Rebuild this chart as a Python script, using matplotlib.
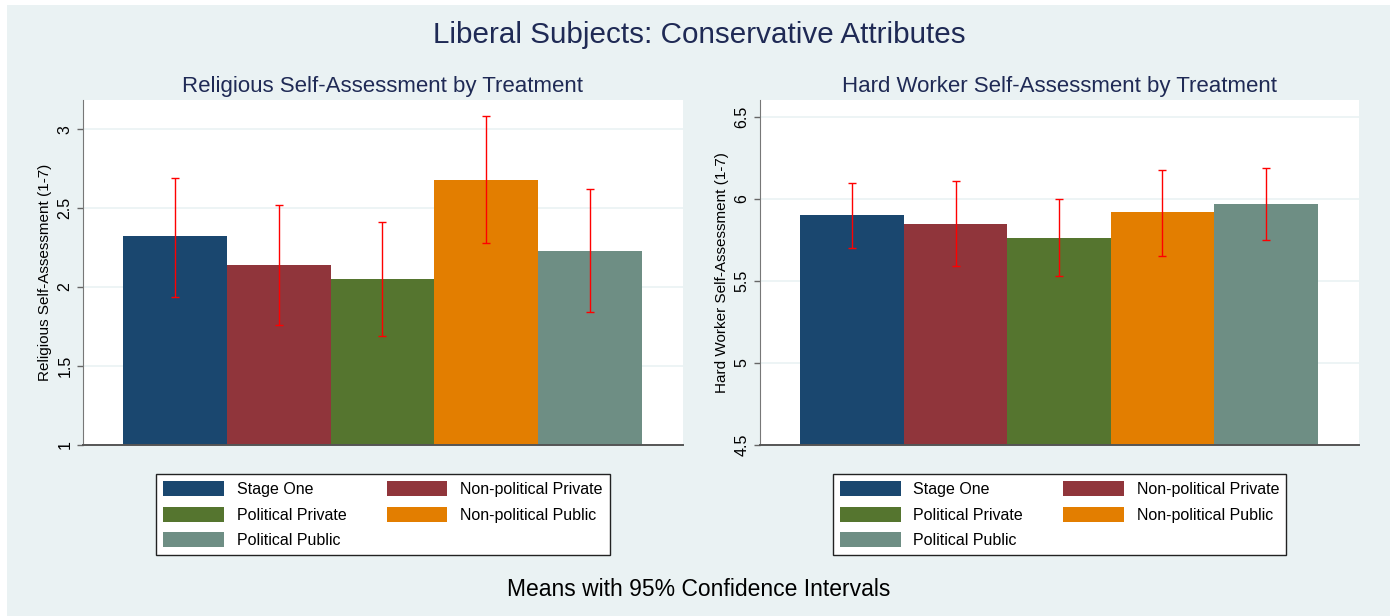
import matplotlib
matplotlib.use("Agg")
import matplotlib.pyplot as plt
from matplotlib.patches import Rectangle
import numpy as np

plt.rcParams['font.family'] = ['Liberation Sans', 'DejaVu Sans']

# treatment groups, in bar order
groups = ["Stage One", "Non-political Private", "Political Private",
          "Non-political Public", "Political Public"]
colors = ["#1A476F", "#90353B", "#55752F", "#E37E00", "#6E8E84"]

# religious self-assessment: means and 95% CI
relig_mean = [2.32, 2.14, 2.05, 2.68, 2.23]
relig_lo = [1.94, 1.76, 1.69, 2.28, 1.84]
relig_hi = [2.69, 2.52, 2.41, 3.08, 2.62]

# hard worker self-assessment: means and 95% CI
hard_mean = [5.90, 5.85, 5.76, 5.92, 5.97]
hard_lo = [5.70, 5.59, 5.53, 5.65, 5.75]
hard_hi = [6.10, 6.11, 6.00, 6.18, 6.19]

relig_ticks = [1, 1.5, 2, 2.5, 3]
relig_ticklabels = ["1", "1.5", "2", "2.5", "3"]
hard_ticks = [4.5, 5, 5.5, 6, 6.5]
hard_ticklabels = ["4.5", "5", "5.5", "6", "6.5"]

bg = "#EAF2F3"
navy_text = "#1F2A55"

fig = plt.figure(figsize=(13.98, 6.16), dpi=100)
fig.patch.set_facecolor("white")
# graph region (leaves a thin white strip on top and left)
fig.patches.append(Rectangle((7 / 1398, 0), 1383 / 1398, 611 / 616,
                             transform=fig.transFigure, facecolor=bg,
                             edgecolor="none", zorder=-10))

W, H = 1398.0, 616.0
ax1 = fig.add_axes([83 / W, 1 - 445 / H, 600 / W, 345 / H])
ax2 = fig.add_axes([760 / W, 1 - 445 / H, 599 / W, 345 / H])

panels = [
    (ax1, relig_mean, relig_lo, relig_hi, (1, 3.184), relig_ticks, relig_ticklabels,
     "Religious Self-Assessment by Treatment", "Religious Self-Assessment (1-7)"),
    (ax2, hard_mean, hard_lo, hard_hi, (4.5, 6.604), hard_ticks, hard_ticklabels,
     "Hard Worker Self-Assessment by Treatment", "Hard Worker Self-Assessment (1-7)"),
]

for ax, mean, lo, hi, ylim, ticks, ticklabels, title, ylabel in panels:
    x = np.arange(len(groups))
    mean = np.array(mean)
    base = ylim[0]
    bars = []
    for i in range(len(groups)):
        b = ax.bar(x[i], mean[i] - base, bottom=base, width=1.0, color=colors[i],
                   linewidth=0, label=groups[i], zorder=2)
        bars.append(b)
    err = [mean - np.array(lo), np.array(hi) - mean]
    ax.errorbar(x, mean, yerr=err, fmt="none", ecolor="#FF0000", elinewidth=1.0,
                capsize=2.8, capthick=1.0, zorder=3)

    ax.set_xlim(-0.89, 4.9)
    ax.set_ylim(*ylim)
    ax.set_yticks(ticks)
    ax.set_yticklabels(ticklabels)
    ax.set_xticks([])
    ax.set_facecolor("white")
    ax.grid(axis="y", color=bg, linewidth=1.2, zorder=0)
    ax.set_axisbelow(True)
    for s in ["top", "right"]:
        ax.spines[s].set_visible(False)
    ax.spines["left"].set_color("#777777")
    ax.spines["bottom"].set_color("#555555")
    ax.spines["bottom"].set_linewidth(1.4)
    ax.tick_params(axis="y", direction="out", length=4.5, width=1, color="#666666",
                   labelsize=11.5, labelrotation=90, pad=3)
    for lab in ax.get_yticklabels():
        lab.set_verticalalignment("center")
    ax.set_ylabel(ylabel, fontsize=11, labelpad=4)
    ax.set_title(title, fontsize=16, color=navy_text, pad=6)

    # legend, filled column-wise: 3 rows in column one
    order = [0, 2, 4, 1, 3]
    leg = ax.legend([bars[i] for i in order], [groups[i] for i in order],
                    ncol=2, loc="upper center", bbox_to_anchor=(0.5, -0.084),
                    borderaxespad=0, fontsize=11.5, frameon=True, fancybox=False,
                    framealpha=1, edgecolor="#222222", handlelength=3.8,
                    handleheight=1.06, handletextpad=0.8, columnspacing=2.5,
                    labelspacing=0.6, borderpad=0.45)
    leg.get_frame().set_linewidth(1.0)

fig.text(0.5, 1 - 35 / H, "Liberal Subjects: Conservative Attributes",
         ha="center", va="center", fontsize=21.3, color=navy_text)
fig.text(0.5, 1 - 589 / H, "Means with 95% Confidence Intervals",
         ha="center", va="center", fontsize=16.5, color="black")

fig.savefig("out.png", dpi=100)
